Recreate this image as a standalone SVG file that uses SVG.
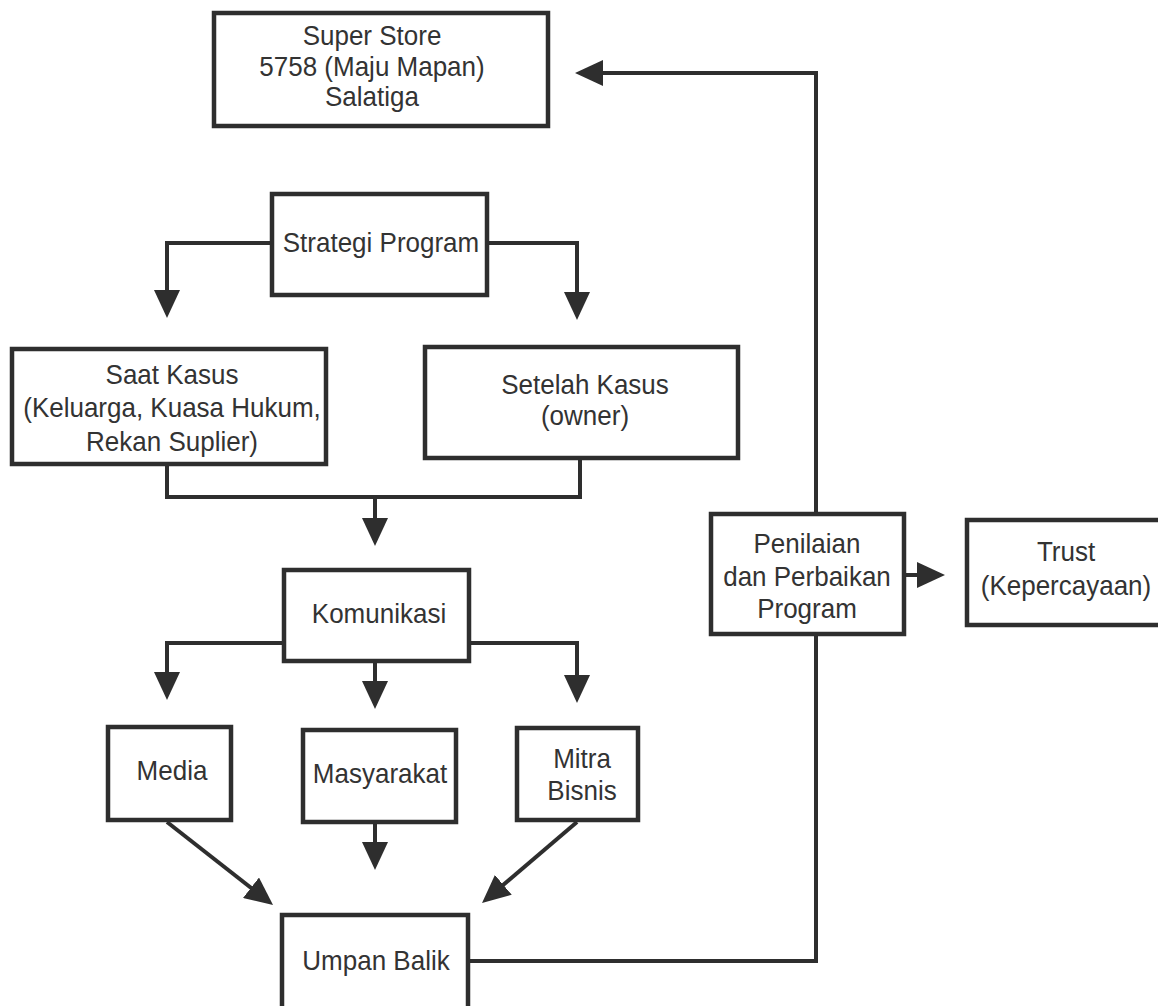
<svg xmlns="http://www.w3.org/2000/svg" width="1158" height="1006" viewBox="0 0 1158 1006">
<defs>
<style>
.box{fill:#fff;stroke:#2e2e2e;stroke-width:4.5}
.t{font-family:"Liberation Sans",Arial,sans-serif;font-size:26px;fill:#333;text-anchor:middle}
.c{fill:none;stroke:#2e2e2e;stroke-width:4}
</style>
<marker id="ah" viewBox="0 0 28 26" markerWidth="28" markerHeight="26" refX="22" refY="13" orient="auto" markerUnits="userSpaceOnUse">
<path d="M0,0 L28,13 L0,26 z" fill="#2e2e2e"/>
</marker>
</defs>
<rect width="1158" height="1006" fill="#fff"/>
<g id="connectors">
<path class="c" d="M270,243 H167 V312" marker-end="url(#ah)"/>
<path class="c" d="M489,243 H577 V314" marker-end="url(#ah)"/>
<path class="c" d="M167,466 V497 H580 V460"/>
<path class="c" d="M375,497 V540" marker-end="url(#ah)"/>
<path class="c" d="M282,643 H167 V694" marker-end="url(#ah)"/>
<path class="c" d="M471,643 H577 V697" marker-end="url(#ah)"/>
<path class="c" d="M375,663 V703" marker-end="url(#ah)"/>
<path class="c" d="M167,822 L268.3,901.3" marker-end="url(#ah)"/>
<path class="c" d="M375,824 V864" marker-end="url(#ah)"/>
<path class="c" d="M577,822 L486.6,899.1" marker-end="url(#ah)"/>
<path class="c" d="M470,961 H816 V636"/>
<path class="c" d="M816,514 V73 H581" marker-end="url(#ah)"/>
<path class="c" d="M906,575 H939" marker-end="url(#ah)"/>
</g>
<g id="superstore">
<rect class="box" x="214" y="13" width="334" height="113"/>
<text class="t" transform="translate(372 45) scale(1 1.08)">Super Store</text>
<text class="t" transform="translate(372 76) scale(1 1.08)">5758 (Maju Mapan)</text>
<text class="t" transform="translate(372 106) scale(1 1.08)">Salatiga</text>
</g>
<g id="strategi">
<rect class="box" x="272" y="194" width="215" height="101"/>
<text class="t" transform="translate(381 252) scale(1 1.08)">Strategi Program</text>
</g>
<g id="saatkasus">
<rect class="box" x="12" y="349" width="314" height="115"/>
<text class="t" transform="translate(172 384) scale(1 1.08)">Saat Kasus</text>
<text class="t" transform="translate(172 417) scale(1 1.08)">(Keluarga, Kuasa Hukum,</text>
<text class="t" transform="translate(172 451) scale(1 1.08)">Rekan Suplier)</text>
</g>
<g id="setelahkasus">
<rect class="box" x="425" y="347" width="313" height="111"/>
<text class="t" transform="translate(585 394) scale(1 1.08)">Setelah Kasus</text>
<text class="t" transform="translate(585 425) scale(1 1.08)">(owner)</text>
</g>
<g id="komunikasi">
<rect class="box" x="284" y="570" width="185" height="91"/>
<text class="t" transform="translate(379 623) scale(1 1.08)">Komunikasi</text>
</g>
<g id="media">
<rect class="box" x="108" y="727" width="123" height="93"/>
<text class="t" transform="translate(172 780) scale(1 1.08)">Media</text>
</g>
<g id="masyarakat">
<rect class="box" x="303" y="730" width="153" height="92"/>
<text class="t" transform="translate(380 783) scale(1 1.08)">Masyarakat</text>
</g>
<g id="mitra">
<rect class="box" x="517" y="728" width="121" height="92"/>
<text class="t" transform="translate(582 768) scale(1 1.08)">Mitra</text>
<text class="t" transform="translate(582 800) scale(1 1.08)">Bisnis</text>
</g>
<g id="umpanbalik">
<rect class="box" x="282" y="915" width="186" height="120"/>
<text class="t" transform="translate(376 970) scale(1 1.08)">Umpan Balik</text>
</g>
<g id="penilaian">
<rect class="box" x="711" y="514" width="193" height="120"/>
<text class="t" transform="translate(807 553) scale(1 1.08)">Penilaian</text>
<text class="t" transform="translate(807 586) scale(1 1.08)">dan Perbaikan</text>
<text class="t" transform="translate(807 618) scale(1 1.08)">Program</text>
</g>
<g id="trust">
<rect class="box" x="967" y="520" width="200" height="105"/>
<text class="t" transform="translate(1066 561) scale(1 1.08)">Trust</text>
<text class="t" transform="translate(1066 595) scale(1 1.08)">(Kepercayaan)</text>
</g>
</svg>
